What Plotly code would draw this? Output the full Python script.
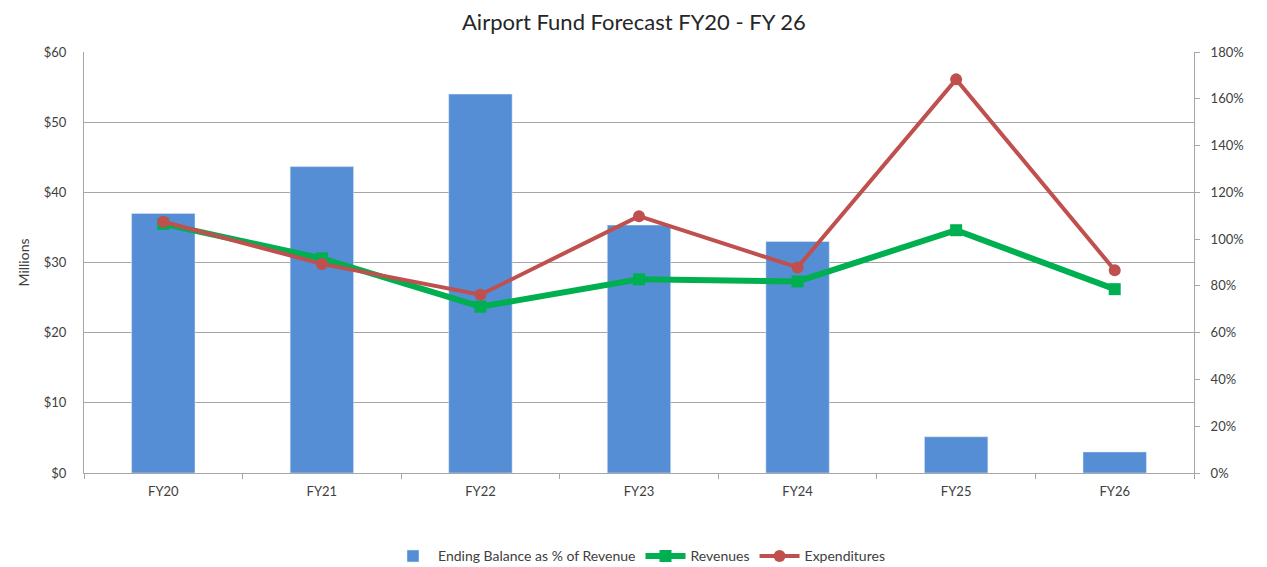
import plotly.graph_objects as go

years = ["FY20", "FY21", "FY22", "FY23", "FY24", "FY25", "FY26"]
ending_balance_pct = [1.11, 1.31, 1.62, 1.06, 0.99, 0.155, 0.09]
revenues = [35.5, 30.6, 23.7, 27.6, 27.3, 34.6, 26.2]
expenditures = [35.8, 29.8, 25.4, 36.6, 29.3, 56.1, 28.9]

font_name = "Lato"
grey = "#a6a6a6"

fig = go.Figure()

# bars on the percent axis (right), lines on the dollar axis (left, overlaid so they sit on top)
fig.add_trace(go.Bar(
    x=years, y=ending_balance_pct, name="Ending Balance as % of Revenue",
    marker=dict(color="#558ed5"), yaxis="y",
))
fig.add_trace(go.Scatter(
    x=years, y=revenues, name="Revenues", mode="lines+markers",
    line=dict(color="#00b050", width=6),
    marker=dict(symbol="square", size=12, color="#00b050"), yaxis="y2",
))
fig.add_trace(go.Scatter(
    x=years, y=expenditures, name="Expenditures", mode="lines+markers",
    line=dict(color="#c0504d", width=4),
    marker=dict(symbol="circle", size=12, color="#c0504d"), yaxis="y2",
))

# page body adds an 8px offset, so margins are shifted by that much
fig.update_layout(
    width=1267, height=567,
    margin=dict(l=76, r=81, t=44, b=102, autoexpand=False),
    paper_bgcolor="white", plot_bgcolor="white",
    font=dict(family=font_name, size=12, color="#404040"),
    title=dict(text="Airport Fund Forecast FY20 - FY 26", x=0.494, xanchor="center",
               y=0.974, yanchor="middle", font=dict(size=22, color="#262626")),
    bargap=0.6,
    showlegend=True,
    legend=dict(orientation="h", x=0.5, xanchor="center", y=-0.16, yanchor="top",
                font=dict(size=14, color="#404040"), itemwidth=40,
                traceorder="normal"),
    xaxis=dict(showline=True, linecolor=grey, linewidth=1, ticks="outside",
               tickson="boundaries", ticklen=5, tickcolor=grey,
               ticklabelstandoff=6,
               tickfont=dict(size=13, color="#404040")),
    yaxis=dict(range=[0, 1.8], dtick=0.2, tickformat=".0%", side="right",
               showgrid=False, zeroline=False, showline=True,
               linecolor=grey, ticks="outside", ticklen=5, tickcolor=grey,
               ticklabelstandoff=8, tickfont=dict(size=13)),
    yaxis2=dict(range=[0, 60], dtick=10, tickprefix="$", overlaying="y",
                side="left", showgrid=True, gridcolor=grey, gridwidth=1,
                showline=True, linecolor=grey, zeroline=False, ticks="",
                ticklabelstandoff=14, tickfont=dict(size=13),
                title=dict(text="Millions", font=dict(size=14), standoff=10)),
)

fig.write_html("out.html")
